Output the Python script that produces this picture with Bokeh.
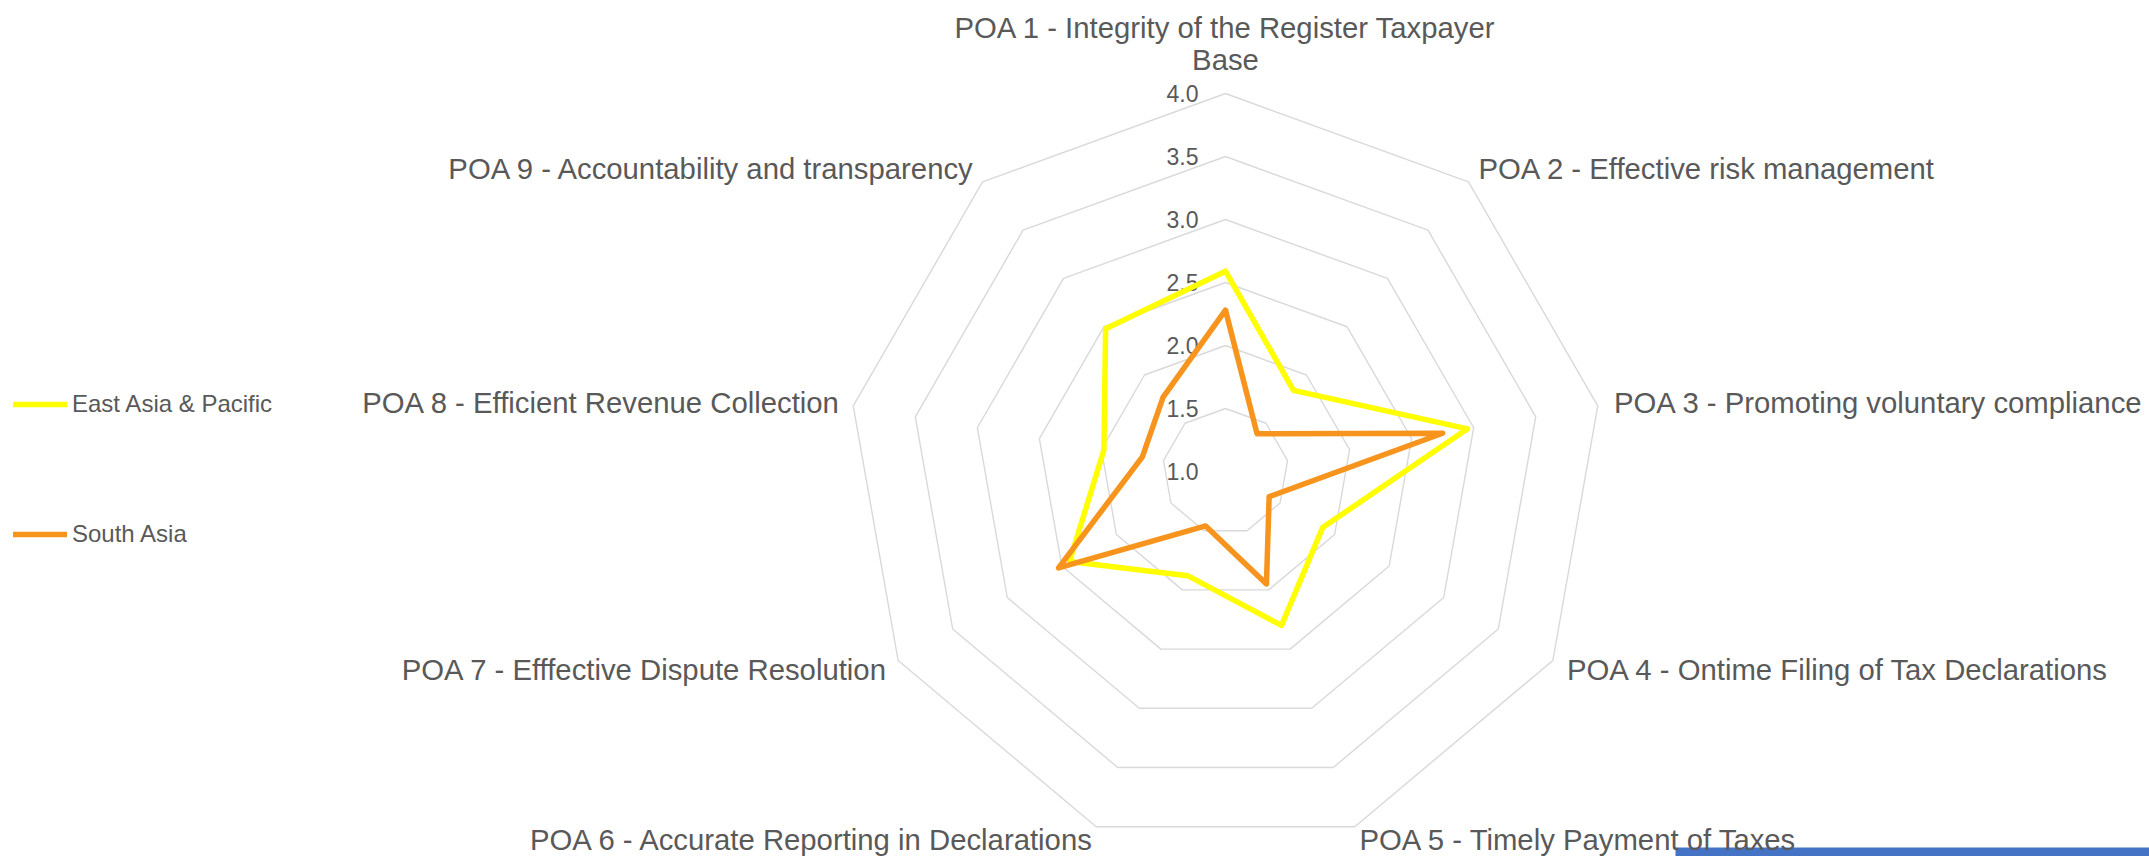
import numpy as np
from bokeh.plotting import figure
from bokeh.models import Range1d, Legend, LegendItem
from bokeh.embed import file_html
from bokeh.resources import INLINE
from bokeh.core.properties import value

# ---------------- data ----------------
categories = [
    "POA 1 - Integrity of the Register Taxpayer\nBase",
    "POA 2 - Effective risk management",
    "POA 3 - Promoting voluntary compliance",
    "POA 4 - Ontime Filing of Tax Declarations",
    "POA 5 - Timely Payment of Taxes",
    "POA 6 - Accurate Reporting in Declarations",
    "POA 7 - Efffective Dispute Resolution",
    "POA 8 - Efficient Revenue Collection",
    "POA 9 - Accountability and transparency",
]
series_names = ["East Asia & Pacific", "South Asia"]
east_asia = [2.59, 1.84, 2.95, 1.89, 2.30, 1.88, 2.43, 1.98, 2.48]
south_asia = [2.28, 1.39, 2.75, 1.40, 1.95, 1.46, 2.53, 1.67, 1.77]
tick_values = [1.0, 1.5, 2.0, 2.5, 3.0, 3.5, 4.0]
tick_labels = ["1.0", "1.5", "2.0", "2.5", "3.0", "3.5", "4.0"]

# ---------------- layout / style ----------------
W, H = 2149, 856
CX, CY = 1225.0, 471.0
R_MIN, R_MAX = 1.0, 4.0
RADIUS = 378.0
TEXT = "#595959"
GRID = "#D9D9D9"
COLORS = ["#FFFF00", "#F7941D"]
FONT = "Liberation Sans"

n = len(categories)
angles = np.deg2rad(np.arange(n) * 360.0 / n)


def radial(v):
    return (np.asarray(v, dtype=float) - R_MIN) / (R_MAX - R_MIN) * RADIUS


def to_xy(vals, close=True):
    r = radial(vals)
    xs = CX + r * np.sin(angles)
    ys = CY - r * np.cos(angles)
    if close:
        xs = np.append(xs, xs[0])
        ys = np.append(ys, ys[0])
    return xs, ys


p = figure(width=W, height=H,
           x_range=Range1d(0, W), y_range=Range1d(H, 0),
           x_axis_type=None, y_axis_type=None,
           output_backend="svg", toolbar_location=None,
           min_border=0, outline_line_color=None,
           background_fill_color="white", border_fill_color="white")
p.grid.visible = False

# blue strip of the neighbouring object at the bottom-right edge
p.quad(left=[1675], right=[W], top=[847], bottom=[H],
       fill_color="#4472C4", line_color=None)

# grid rings
for tv in tick_values[1:]:
    xs, ys = to_xy([tv] * n)
    p.line(xs, ys, line_color=GRID, line_width=1.4)

# tick labels
for tv, tl in zip(tick_values, tick_labels):
    p.text(x=[CX - 27], y=[CY - radial(tv)], text=[tl],
           text_align="right", text_baseline="middle",
           text_font=value(FONT), text_font_size=value("23px"),
           text_color=TEXT)

# category labels
LABEL_R = RADIUS + 18
LINE_H = 32
LABEL_SIZE = "29.3px"
for k, cat in enumerate(categories):
    s, c = np.sin(angles[k]), np.cos(angles[k])
    lx = CX + LABEL_R * s
    ly = CY - LABEL_R * c
    lines = cat.split("\n")
    if abs(s) < 1e-6:
        base = CY - RADIUS - 34
        for j, ln in enumerate(reversed(lines)):
            p.text(x=[lx], y=[base - j * LINE_H], text=[ln],
                   text_align="center", text_baseline="middle",
                   text_font=value(FONT), text_font_size=value(LABEL_SIZE),
                   text_color=TEXT)
        continue
    if s > 0:
        align, lx = "left", lx - 1.5
    else:
        align, lx = "right", lx + 5
    if c < -0.9:          # bottom labels sit at the page edge
        ly -= 4
    for j, ln in enumerate(lines):
        p.text(x=[lx], y=[ly + j * LINE_H], text=[ln],
               text_align=align, text_baseline="middle",
               text_font=value(FONT), text_font_size=value(LABEL_SIZE),
               text_color=TEXT)

# series
renderers = []
for vals, col in zip([east_asia, south_asia], COLORS):
    xs, ys = to_xy(vals)
    r = p.line(xs, ys, line_color=col, line_width=5.5,
               line_join="round", line_cap="round")
    renderers.append(r)

legend = Legend(
    items=[LegendItem(label=nm, renderers=[r]) for nm, r in zip(series_names, renderers)],
    location=(13, 307), orientation="vertical",
    glyph_width=54, glyph_height=30, label_height=30, spacing=100,
    padding=0, margin=0, border_line_color=None, background_fill_alpha=0,
    label_text_font=FONT, label_text_font_size="24px",
    label_text_color=TEXT, label_standoff=5,
)
p.add_layout(legend)

open("out.html", "w").write(file_html(p, INLINE))
